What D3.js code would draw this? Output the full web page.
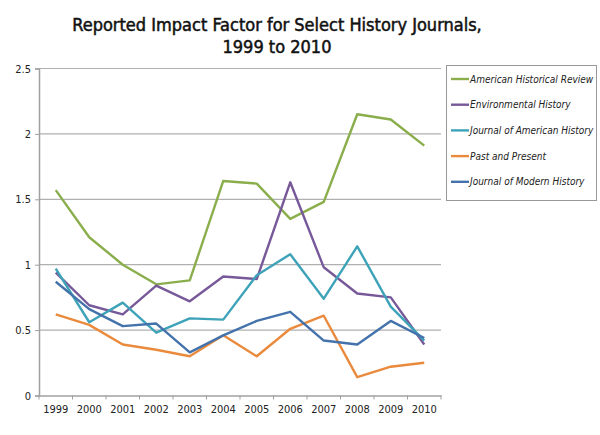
<!DOCTYPE html>
<html>
<head>
<meta charset="utf-8">
<script src="https://cdn.jsdelivr.net/npm/d3@7"></script>
<style>
  body { margin: 0; background: #fff; }
  svg { display: block; }
  text { font-family: "DejaVu Sans Condensed", "DejaVu Sans", sans-serif; }
</style>
</head>
<body>
<svg id="chart" width="600" height="435"></svg>
<script>
const years = ["1999", "2000", "2001", "2002", "2003", "2004", "2005", "2006", "2007", "2008", "2009", "2010"];
const yTicks = [0, 0.5, 1, 1.5, 2, 2.5];

const americanHistoricalReview = [1.57, 1.21, 1.0, 0.85, 0.88, 1.64, 1.62, 1.35, 1.48, 2.15, 2.11, 1.91];
const environmentalHistory     = [0.94, 0.69, 0.62, 0.84, 0.72, 0.91, 0.89, 1.63, 0.98, 0.78, 0.75, 0.39];
const journalOfAmericanHistory = [0.97, 0.56, 0.71, 0.48, 0.59, 0.58, 0.92, 1.08, 0.74, 1.14, 0.68, 0.42];
const pastAndPresent           = [0.62, 0.54, 0.39, 0.35, 0.30, 0.46, 0.30, 0.51, 0.61, 0.14, 0.22, 0.25];
const journalOfModernHistory   = [0.87, 0.66, 0.53, 0.55, 0.33, 0.46, 0.57, 0.64, 0.42, 0.39, 0.57, 0.44];

const seriesNames  = ["American Historical Review", "Environmental History", "Journal of American History", "Past and Present", "Journal of Modern History"];
const seriesValues = [americanHistoricalReview, environmentalHistory, journalOfAmericanHistory, pastAndPresent, journalOfModernHistory];
const seriesColors = ["#8aae4c", "#77599a", "#3ea3b9", "#ea8a3d", "#4472ab"];

const svg = d3.select("#chart");
const plotLeft = 39, plotRight = 441, plotTop = 68.5, plotBottom = 395.5;

const x = d3.scaleBand().domain(years).range([plotLeft, plotRight]);
const y = d3.scaleLinear().domain([0, 2.5]).range([plotBottom, plotTop]);

// title
const title = svg.append("text")
    .attr("x", 277).attr("y", 31)
    .attr("text-anchor", "middle")
    .attr("font-size", 18)
    .attr("fill", "#111")
    .attr("stroke", "#111")
    .attr("stroke-width", 0.5);
title.append("tspan").attr("x", 277).text("Reported Impact Factor for Select History Journals,");
title.append("tspan").attr("x", 277).attr("dy", 22).text("1999 to 2010");

// gridlines
svg.append("g")
    .selectAll("line")
    .data(yTicks.filter(d => d > 0))
    .join("line")
    .attr("x1", plotLeft).attr("x2", plotRight)
    .attr("y1", d => y(d)).attr("y2", d => y(d))
    .attr("stroke", "#b0b0b0").attr("stroke-width", 1.2);

// y axis
const yAxis = svg.append("g")
    .attr("transform", `translate(${plotLeft},0)`)
    .call(d3.axisLeft(y).tickValues(yTicks).tickSize(4).tickPadding(4).tickFormat(d3.format("")));
yAxis.select(".domain").attr("stroke", "#a0a0a0").attr("stroke-width", 1.5);
yAxis.selectAll(".tick line").attr("stroke", "#a0a0a0");
yAxis.selectAll(".tick text").attr("font-size", 11).attr("fill", "#222")
    .attr("font-family", "\"DejaVu Sans Condensed\", sans-serif");

// x axis
const xAxis = svg.append("g")
    .attr("transform", `translate(0,${plotBottom})`)
    .call(d3.axisBottom(x).tickSize(0).tickPadding(10));
xAxis.select(".domain").attr("stroke", "#a0a0a0").attr("stroke-width", 1.5);
xAxis.selectAll(".tick text").attr("font-size", 11).attr("fill", "#222")
    .attr("font-family", "\"DejaVu Sans Condensed\", sans-serif");
xAxis.append("g")
    .selectAll("line")
    .data(years.concat(["end"]))
    .join("line")
    .attr("x1", (d, i) => plotLeft + i * x.step()).attr("x2", (d, i) => plotLeft + i * x.step())
    .attr("y1", 0).attr("y2", 4)
    .attr("stroke", "#a0a0a0");

// lines
const line = d3.line()
    .x((d, i) => x(years[i]) + x.bandwidth() / 2)
    .y(d => y(d));

svg.append("g")
    .selectAll("path")
    .data(seriesValues)
    .join("path")
    .attr("d", line)
    .attr("fill", "none")
    .attr("stroke", (d, i) => seriesColors[i])
    .attr("stroke-width", 2.4)
    .attr("stroke-linejoin", "round");

// legend
const legend = svg.append("g");
legend.append("rect")
    .attr("x", 446.5).attr("y", 65.5).attr("width", 150).attr("height", 135)
    .attr("fill", "#fff").attr("stroke", "#999").attr("stroke-width", 1);

const item = legend.selectAll("g.item")
    .data(seriesNames)
    .join("g")
    .attr("class", "item")
    .attr("transform", (d, i) => `translate(0,${79 + i * 25.7})`);
item.append("line")
    .attr("x1", 451).attr("x2", 469)
    .attr("stroke", (d, i) => seriesColors[i])
    .attr("stroke-width", 2.4);
item.append("text")
    .attr("x", 470).attr("dy", "0.35em")
    .attr("font-size", 10)
    .attr("font-style", "italic")
    .attr("fill", "#222")
    .text(d => d);
</script>
</body>
</html>
